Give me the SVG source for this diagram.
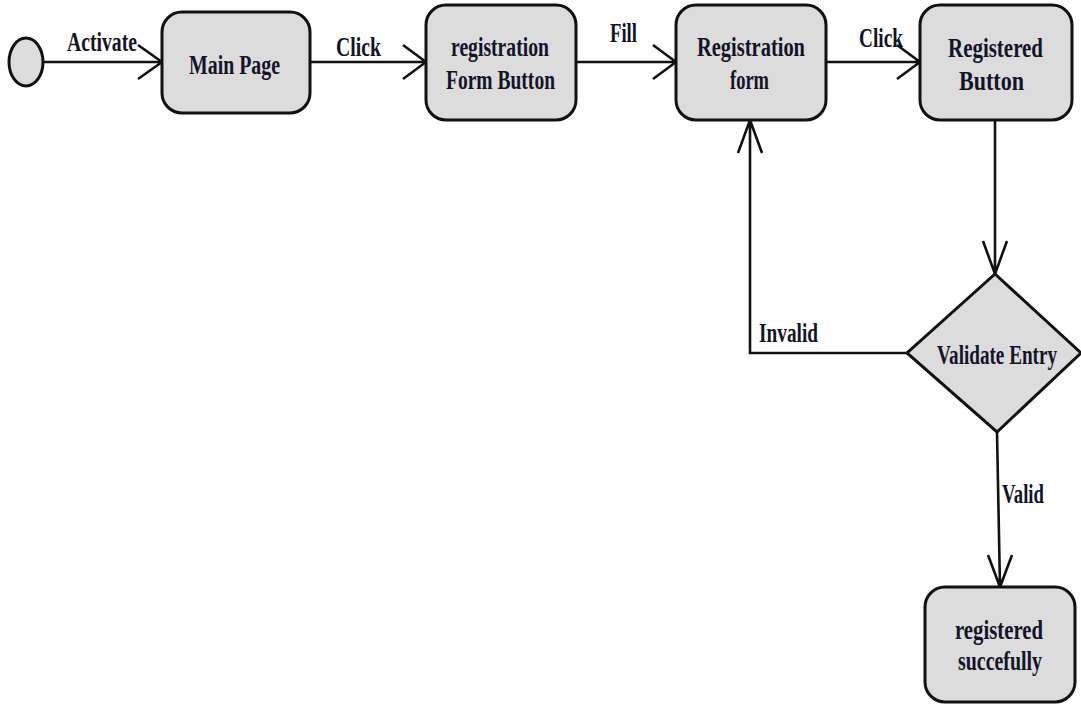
<svg xmlns="http://www.w3.org/2000/svg" width="1081" height="704" viewBox="0 0 1081 704">
<style>
.n{fill:#dcdcdc;stroke:#111;stroke-width:3}
.t{font-family:"Liberation Serif",serif;font-weight:bold;font-size:27px;fill:#141428}
.c{fill:none;stroke:#111;stroke-width:2.6;stroke-linejoin:miter}
</style>
<rect width="1081" height="704" fill="#fff"/>
<g id="connectors">
<path class="c" d="M43,62 L162,62 M138,45 L162,62 L138,79"/>
<path class="c" d="M310,62 L426,62 M403,45 L426,62 L403,79"/>
<path class="c" d="M576,62 L676,62 M653,45 L676,62 L653,79"/>
<path class="c" d="M826,62 L920,62 M897,45 L920,62 L897,79"/>
<path class="c" d="M995,120 L995,274 M983,241 L995,274 L1007,241"/>
<path class="c" d="M907,353 L750,353 L750,120 M738,153 L750,120 L762,153"/>
<path class="c" d="M997,432 L1000,587 M988,555 L1000,587 L1012,555"/>
<text class="t" x="67" y="51" textLength="70" lengthAdjust="spacingAndGlyphs">Activate</text>
<text class="t" x="336" y="56" textLength="45" lengthAdjust="spacingAndGlyphs">Click</text>
<text class="t" x="610" y="42" textLength="27" lengthAdjust="spacingAndGlyphs">Fill</text>
<text class="t" x="859" y="47" textLength="44" lengthAdjust="spacingAndGlyphs">Click</text>
<text class="t" x="759" y="342" textLength="59" lengthAdjust="spacingAndGlyphs">Invalid</text>
<text class="t" x="1002" y="503" textLength="42" lengthAdjust="spacingAndGlyphs">Valid</text>
</g>
<g id="start"><ellipse class="n" cx="26" cy="62" rx="17" ry="24"/></g>
<g id="main-page">
<rect class="n" x="162" y="12" width="148" height="101" rx="20"/>
<text class="t" x="189" y="74" textLength="91" lengthAdjust="spacingAndGlyphs">Main Page</text>
</g>
<g id="registration-form-button">
<rect class="n" x="426" y="5" width="150" height="115" rx="20"/>
<text class="t" x="451" y="56" textLength="98" lengthAdjust="spacingAndGlyphs">registration</text>
<text class="t" x="446" y="89" textLength="109" lengthAdjust="spacingAndGlyphs">Form Button</text>
</g>
<g id="registration-form">
<rect class="n" x="676" y="5" width="150" height="115" rx="20"/>
<text class="t" x="697" y="56" textLength="108" lengthAdjust="spacingAndGlyphs">Registration</text>
<text class="t" x="730" y="89" textLength="39" lengthAdjust="spacingAndGlyphs">form</text>
</g>
<g id="registered-button">
<rect class="n" x="920" y="5" width="152" height="115" rx="20"/>
<text class="t" x="948" y="57" textLength="95" lengthAdjust="spacingAndGlyphs">Registered</text>
<text class="t" x="959" y="90" textLength="65" lengthAdjust="spacingAndGlyphs">Button</text>
</g>
<g id="validate-entry">
<polygon class="n" points="995,274 1081,353 997,432 907,353"/>
<text class="t" x="937" y="364" textLength="120" lengthAdjust="spacingAndGlyphs">Validate Entry</text>
</g>
<g id="registered-succefully">
<rect class="n" x="925" y="587" width="150" height="115" rx="20"/>
<text class="t" x="955" y="639" textLength="88" lengthAdjust="spacingAndGlyphs">registered</text>
<text class="t" x="958" y="670" textLength="84" lengthAdjust="spacingAndGlyphs">succefully</text>
</g>
</svg>
